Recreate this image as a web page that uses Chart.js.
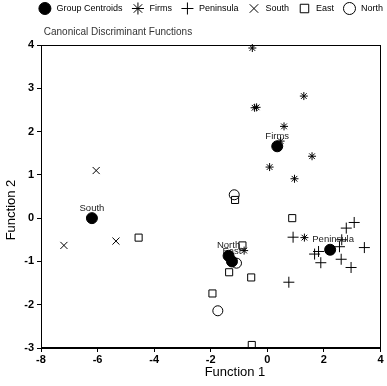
<!DOCTYPE html>
<html>
<head>
<meta charset="utf-8">
<script src="https://cdn.jsdelivr.net/npm/chart.js@4.4.1/dist/chart.umd.min.js"></script>
<style>
  html, body { margin: 0; padding: 0; background: #fff; }
  #wrap { width: 387px; height: 386px; position: relative; }
</style>
</head>
<body>
<div id="wrap"><canvas id="c"></canvas></div>
<script>
// ---- data ----
const seriesNames = ['Group Centroids', 'Firms', 'Peninsula', 'South', 'East', 'North'];

const centroidNames = ['South', 'Firms', 'Peninsula', 'North', 'East'];
const centroidX = [-6.2, 0.35, 2.22, -1.37, -1.25];
const centroidY = [0.0, 1.66, -0.73, -0.87, -1.0];

const firmsX = [-0.53, 1.29, -0.45, -0.38, 0.59, 1.58, 0.08, 0.96, 0.47, 1.31, -0.82];
const firmsY = [3.93, 2.82, 2.55, 2.56, 2.12, 1.43, 1.18, 0.91, 1.78, -0.45, -0.75];

const peninsulaX = [0.91, 0.76, 1.67, 1.81, 1.89, 2.61, 2.96, 2.79, 3.07, 2.63, 2.55, 3.43];
const peninsulaY = [-0.44, -1.48, -0.83, -0.77, -1.03, -0.95, -1.14, -0.23, -0.10, -0.50, -0.66, -0.68];

const southX = [-6.05, -7.19, -5.35];
const southY = [1.10, -0.63, -0.53];

const eastX = [-1.14, 0.88, -0.88, -1.35, -0.57, -1.94, -0.55, -4.55];
const eastY = [0.42, 0.00, -0.63, -1.25, -1.37, -1.74, -2.93, -0.45];

const northX = [-1.17, -1.09, -1.75];
const northY = [0.54, -1.04, -2.14];

const xTicks = [-8, -6, -4, -2, 0, 2, 4];
const yTicks = [-3, -2, -1, 0, 1, 2, 3, 4];

const chartTitle = 'Canonical Discriminant Functions';
const xAxisTitle = 'Function 1';
const yAxisTitle = 'Function 2';

// ---- build ----
const pts = (xs, ys) => xs.map((x, i) => ({ x: x, y: ys[i] }));
const FONT = "'Liberation Sans', Arial, sans-serif";

const labelPlugin = {
  id: 'extraText',
  afterLayout(chart) {
    // push the legend row flush with the right edge of the plot box
    if (chart.legend) { chart.legend.left += 11; chart.legend.right += 11; }
  },
  beforeDatasetsDraw(chart) {
    const ctx = chart.ctx;
    const xs = chart.scales.x, ys = chart.scales.y;
    ctx.save();
    ctx.font = '9.5px ' + FONT;
    ctx.fillStyle = '#222';
    ctx.textAlign = 'center';
    ctx.textBaseline = 'middle';
    centroidNames.forEach((n, i) => {
      const px = xs.getPixelForValue(centroidX[i]);
      const py = ys.getPixelForValue(centroidY[i]);
      const dx = n === 'Peninsula' ? 3 : 0;
      ctx.fillText(n, px + dx, py - 10);
    });
    ctx.restore();
  },
  afterDraw(chart) {
    const ctx = chart.ctx;
    const a = chart.chartArea;
    ctx.save();
    ctx.strokeStyle = '#000';
    ctx.lineWidth = 1;
    ctx.strokeRect(Math.round(a.left) + 0.5, Math.round(a.top) + 0.5,
                   Math.round(a.right - a.left) - 1, Math.round(a.bottom - a.top) - 1);
    ctx.fillStyle = '#000';
    ctx.font = '13px ' + FONT;
    ctx.textAlign = 'center';
    ctx.textBaseline = 'middle';
    ctx.fillText(xAxisTitle, 235, 372);
    ctx.translate(11, 210);
    ctx.rotate(-Math.PI / 2);
    ctx.fillText(yAxisTitle, 0, 0);
    ctx.restore();
  }
};

const common = { borderColor: '#000', borderWidth: 1, pointBorderWidth: 1, showLine: false, clip: false };

new Chart(document.getElementById('c'), {
  type: 'scatter',
  data: {
    datasets: [
      Object.assign({}, common, { label: seriesNames[0], data: pts(centroidX, centroidY), pointStyle: 'circle', pointRadius: 5.5, backgroundColor: '#000' }),
      Object.assign({}, common, { label: seriesNames[1], data: pts(firmsX, firmsY), pointStyle: 'star', pointRadius: 4, backgroundColor: 'rgba(0,0,0,0)' }),
      Object.assign({}, common, { label: seriesNames[2], data: pts(peninsulaX, peninsulaY), pointStyle: 'cross', pointRadius: 5.5, backgroundColor: 'rgba(0,0,0,0)' }),
      Object.assign({}, common, { label: seriesNames[3], data: pts(southX, southY), pointStyle: 'crossRot', pointRadius: 5, backgroundColor: 'rgba(0,0,0,0)' }),
      Object.assign({}, common, { label: seriesNames[4], data: pts(eastX, eastY), pointStyle: 'rect', pointRadius: 5, backgroundColor: 'rgba(0,0,0,0)' }),
      Object.assign({}, common, { label: seriesNames[5], data: pts(northX, northY), pointStyle: 'circle', pointRadius: 5, backgroundColor: 'rgba(0,0,0,0)' })
    ]
  },
  options: {
    responsive: true,
    maintainAspectRatio: false,
    animation: false,
    layout: { padding: { left: 0, right: 4, top: -7, bottom: 0 } },
    plugins: {
      tooltip: { enabled: false },
      legend: {
        position: 'top',
        align: 'end',
        labels: {
          usePointStyle: true,
          boxWidth: 9,
          boxHeight: 8.5,
          padding: 11,
          color: '#000',
          font: { size: 9, family: FONT },
          generateLabels(chart) {
            const items = Chart.defaults.plugins.legend.labels.generateLabels(chart);
            items.forEach(it => { it.text = ' ' + it.text; });
            return items;
          }
        }
      },
      title: {
        display: true,
        text: ' ' + chartTitle,
        align: 'start',
        fullSize: false,
        weight: 500,
        color: '#333',
        font: { size: 10, weight: 'normal', family: FONT },
        padding: { top: 3.3, bottom: 6.7 }
      }
    },
    scales: {
      x: {
        type: 'linear',
        min: -8, max: 4,
        afterFit(s) { s.height = 38; },
        afterBuildTicks(s) { s.ticks = xTicks.map(v => ({ value: v })); },
        grid: { drawOnChartArea: false, drawTicks: true, tickLength: 4, color: '#000' },
        border: { display: true, color: '#000' },
        ticks: { color: '#000', font: { size: 11, weight: 'bold', family: FONT }, padding: 1, maxRotation: 0 }
      },
      y: {
        type: 'linear',
        min: -3, max: 4,
        afterFit(s) { s.width = 41; },
        afterBuildTicks(s) { s.ticks = yTicks.map(v => ({ value: v })); },
        grid: { drawOnChartArea: false, drawTicks: true, tickLength: 4, color: '#000' },
        border: { display: true, color: '#000' },
        ticks: { color: '#000', font: { size: 11, weight: 'bold', family: FONT }, padding: 3 }
      }
    }
  },
  plugins: [labelPlugin]
});
</script>
</body>
</html>
